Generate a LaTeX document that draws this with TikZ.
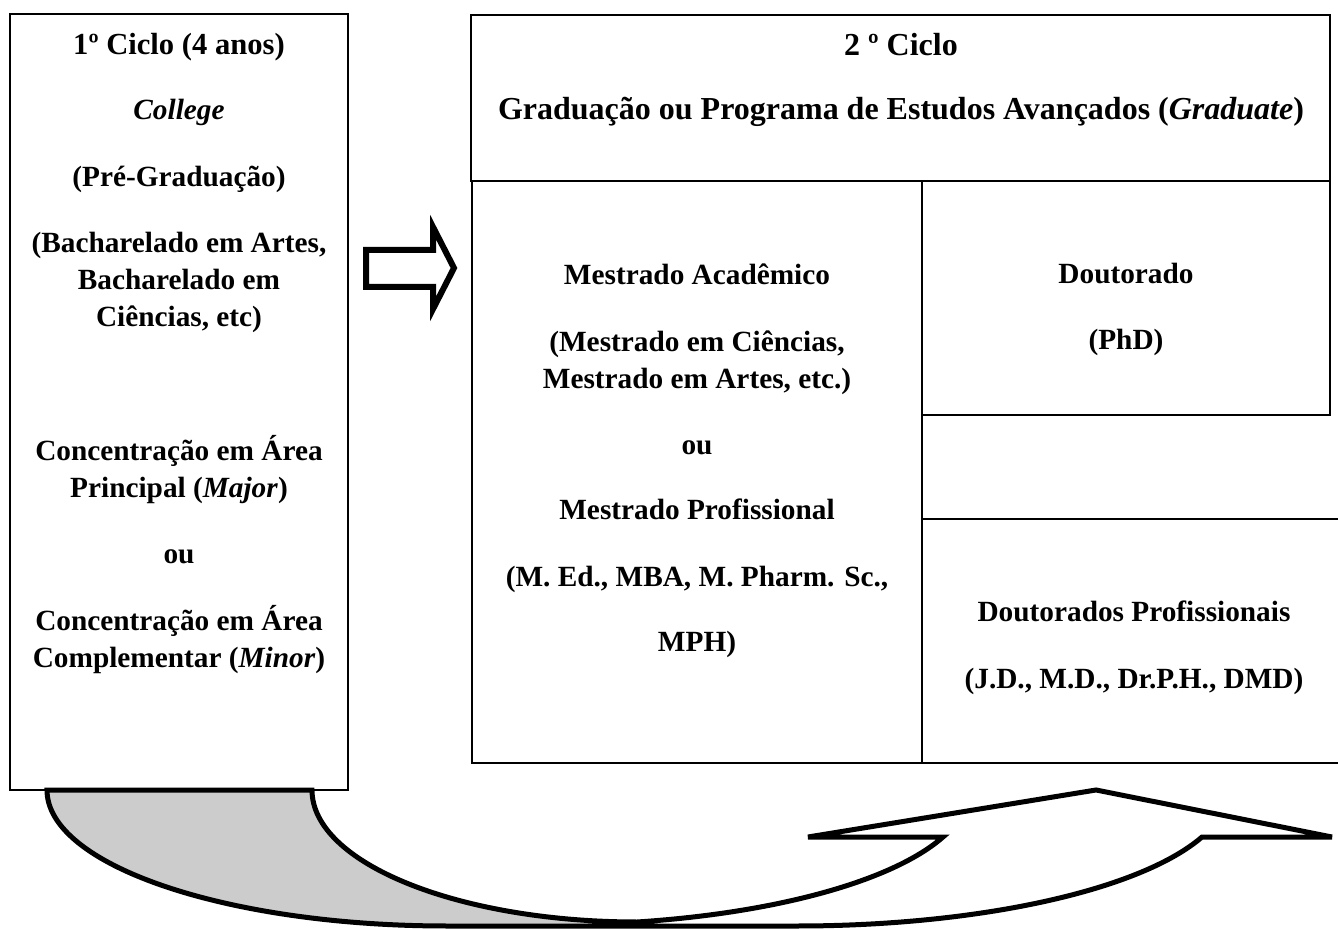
\documentclass[tikz,border=0pt]{standalone}
\usepackage{fontspec}
\setmainfont{Liberation Serif}
\usetikzlibrary{fit}
\definecolor{tailgray}{gray}{0.8}
\begin{document}
\begin{tikzpicture}[x=0.5pt,y=-0.5pt,
  box/.style={draw, line width=1pt, inner sep=0pt},
  txt/.style={anchor=base, inner sep=0pt, font=\fontsize{14.65}{18}\selectfont\bfseries},
  bigtxt/.style={anchor=base, inner sep=0pt, font=\fontsize{16}{19}\selectfont\bfseries},
  midtxt/.style={anchor=base, inner sep=0pt, font=\fontsize{15.3}{19}\selectfont\bfseries},
  blockarrow/.style={draw, line width=3pt, line join=miter},
  curvearrow/.style={draw, line width=2.5pt, line join=miter}
]
\useasboundingbox (0,0) rectangle (1338,929);

% boxes
\node[box, fit={(10,14) (348,790)}] (cyc1) {};
\node[box, fit={(471,15) (1330,181)}] (cyc2) {};
\node[box, fit={(472,181) (922,763)}] (mest) {};
\node[box, fit={(922,181) (1330,415)}] (dout) {};
\node[box, fit={(922,519) (1348,763)}] (dprof) {};

% left box text
\node[midtxt] (a1) at (179,55) {1º Ciclo (4 anos)};
\node[txt] (a2) at (179,120) {\textit{College}};
\node[txt] (a3) at (179,187) {(Pré-Graduação)};
\node[txt] (a4) at (179,253) {(Bacharelado em Artes,};
\node[txt] (a5) at (179,290) {Bacharelado em};
\node[txt] (a6) at (179,327) {Ciências, etc)};
\node[txt] (a7) at (179,461) {Concentração em Área};
\node[txt] (a8) at (179,498) {Principal (\textit{Major})};
\node[txt] (a9) at (179,564) {ou};
\node[txt] (a10) at (179,631) {Concentração em Área};
\node[txt] (a11) at (179,668) {Complementar (\textit{Minor})};

% top box text
\node[bigtxt] (b1) at (901,56) {2 º Ciclo};
\node[bigtxt] (b2) at (901,120) {Graduação ou Programa de Estudos Avançados (\textit{Graduate})};

% mestrado text
\node[txt] (c1) at (697,285) {Mestrado Acadêmico};
\node[txt] (c2) at (697,352) {(Mestrado em Ciências,};
\node[txt] (c3) at (697,389) {Mestrado em Artes, etc.)};
\node[txt] (c4) at (697,455) {ou};
\node[txt] (c5) at (697,520) {Mestrado Profissional};
\node[txt] (c6) at (697,587) {(M. Ed., MBA, M. Pharm. Sc.,};
\node[txt] (c7) at (697,652) {MPH)};

% doutorado text
\node[txt] (d1) at (1126,284) {Doutorado};
\node[txt] (d2) at (1126,350) {(PhD)};
\node[txt] (e1) at (1134,622) {Doutorados Profissionais};
\node[txt] (e2) at (1134,689) {(J.D., M.D., Dr.P.H., DMD)};

% block arrow between first and second cycle
\draw[blockarrow] (366,250) -- (433,250) -- (433,227) -- (454,268) -- (433,309) -- (433,287) -- (366,287) -- cycle;

% curved up arrow
\fill[tailgray] (47,790) .. controls (47,865) and (226,926) .. (447,926) -- (637,926) -- (637,922) .. controls (458,922) and (312,863) .. (312,790) -- cycle;
\draw[curvearrow] (312,790) -- (47,790) .. controls (47,865) and (226,926) .. (447,926) -- (797,926) .. controls (978,926) and (1140,890.5) .. (1202,837) -- (1332,837) -- (1096,790) -- (808,837) -- (943,837) .. controls (893,881) and (776,913) .. (637,922) .. controls (458,922) and (312,863) .. (312,790) -- cycle;
\end{tikzpicture}
\end{document}
